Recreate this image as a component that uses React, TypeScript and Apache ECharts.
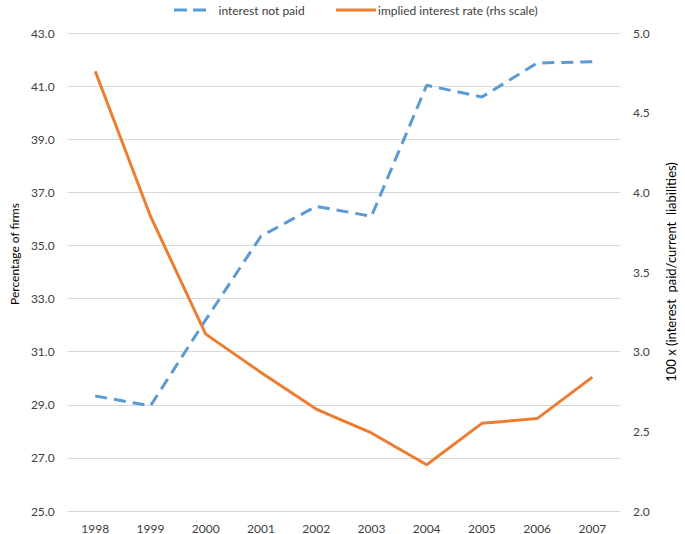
import React, { useEffect, useRef } from "react";
import * as echarts from "echarts";

const years = ["1998", "1999", "2000", "2001", "2002", "2003", "2004", "2005", "2006", "2007"];
const interestNotPaid = [29.33, 28.96, 32.2, 35.35, 36.47, 36.1, 41.03, 40.59, 41.87, 41.92];
const impliedRate = [4.76, 3.85, 3.11, 2.87, 2.64, 2.49, 2.29, 2.55, 2.58, 2.84];
const leftTicks = [25, 27, 29, 31, 33, 35, 37, 39, 41, 43];

const FONT = "Lato, 'Open Sans', sans-serif";
const TXT = "#404040";

export default function App() {
  const ref = useRef<HTMLDivElement>(null);
  useEffect(() => {
    if (!ref.current) return;
    const chart = echarts.init(ref.current, null, { renderer: "svg" });
    chart.setOption({
      animation: false,
      textStyle: { fontFamily: FONT },
      grid: { left: 55, right: 51, top: 33, bottom: 22, containLabel: false },
      legend: [
        {
          data: [{ name: "interest not paid", icon: "path://M0,0H13V3H0Z M19,0H32V3H19Z" }],
          left: 169,
          top: -1,
          itemWidth: 33,
          itemHeight: 3,
          textStyle: { fontFamily: FONT, fontSize: 12, color: TXT, padding: [0, 0, 0, 7] },
        },
        {
          data: [{ name: "implied interest rate (rhs scale)", icon: "rect" }],
          left: 331,
          top: -1,
          itemWidth: 40,
          itemHeight: 3,
          textStyle: { fontFamily: FONT, fontSize: 12, color: TXT, padding: [0, 0, 0, -3] },
        },
      ],
      xAxis: {
        type: "category",
        data: years,
        boundaryGap: true,
        axisLine: { show: false },
        axisTick: { show: false },
        axisLabel: { color: TXT, fontSize: 12, fontFamily: FONT, margin: 11 },
      },
      yAxis: [
        {
          type: "value",
          min: 25,
          max: 43,
          name: "Percentage of firms",
          nameLocation: "middle",
          nameGap: 47,
          nameTextStyle: { color: "#000", fontSize: 12, fontFamily: FONT, padding: [0, 0, 0, 36] },
          axisLine: { show: false },
          axisTick: { show: false, customValues: leftTicks },
          axisLabel: {
            customValues: leftTicks,
            color: TXT,
            fontSize: 12,
            fontFamily: FONT,
            margin: 13,
            formatter: (v: number) => v.toFixed(1),
          },
          splitLine: { show: true, lineStyle: { color: "#d9d9d9", width: 1 } },
        },
        {
          type: "value",
          min: 2,
          max: 5,
          interval: 0.5,
          position: "right",
          name: "100 x (interest  paid/current  liabilities)",
          nameLocation: "middle",
          nameGap: 44,
          nameRotate: 90,
          nameTextStyle: { color: "#000", fontSize: 13, fontFamily: FONT },
          axisLine: { show: false },
          axisTick: { show: false },
          axisLabel: {
            color: TXT,
            fontSize: 12,
            fontFamily: FONT,
            margin: 13,
            formatter: (v: number) => v.toFixed(1),
          },
          splitLine: { show: false },
        },
      ],
      series: [
        {
          name: "interest not paid",
          type: "line",
          yAxisIndex: 0,
          data: interestNotPaid,
          symbol: "none",
          lineStyle: { color: "#5B9BD5", width: 3, type: [12, 7] },
          itemStyle: { color: "#5B9BD5" },
          z: 2,
        },
        {
          name: "implied interest rate (rhs scale)",
          type: "line",
          yAxisIndex: 1,
          data: impliedRate,
          symbol: "none",
          lineStyle: { color: "#ED7D31", width: 3 },
          itemStyle: { color: "#ED7D31" },
          z: 3,
        },
      ],
    });
    return () => chart.dispose();
  }, []);
  return <div ref={ref} style={{ width: 685, height: 534, position: "absolute", left: 0, top: 0 }} />;
}
